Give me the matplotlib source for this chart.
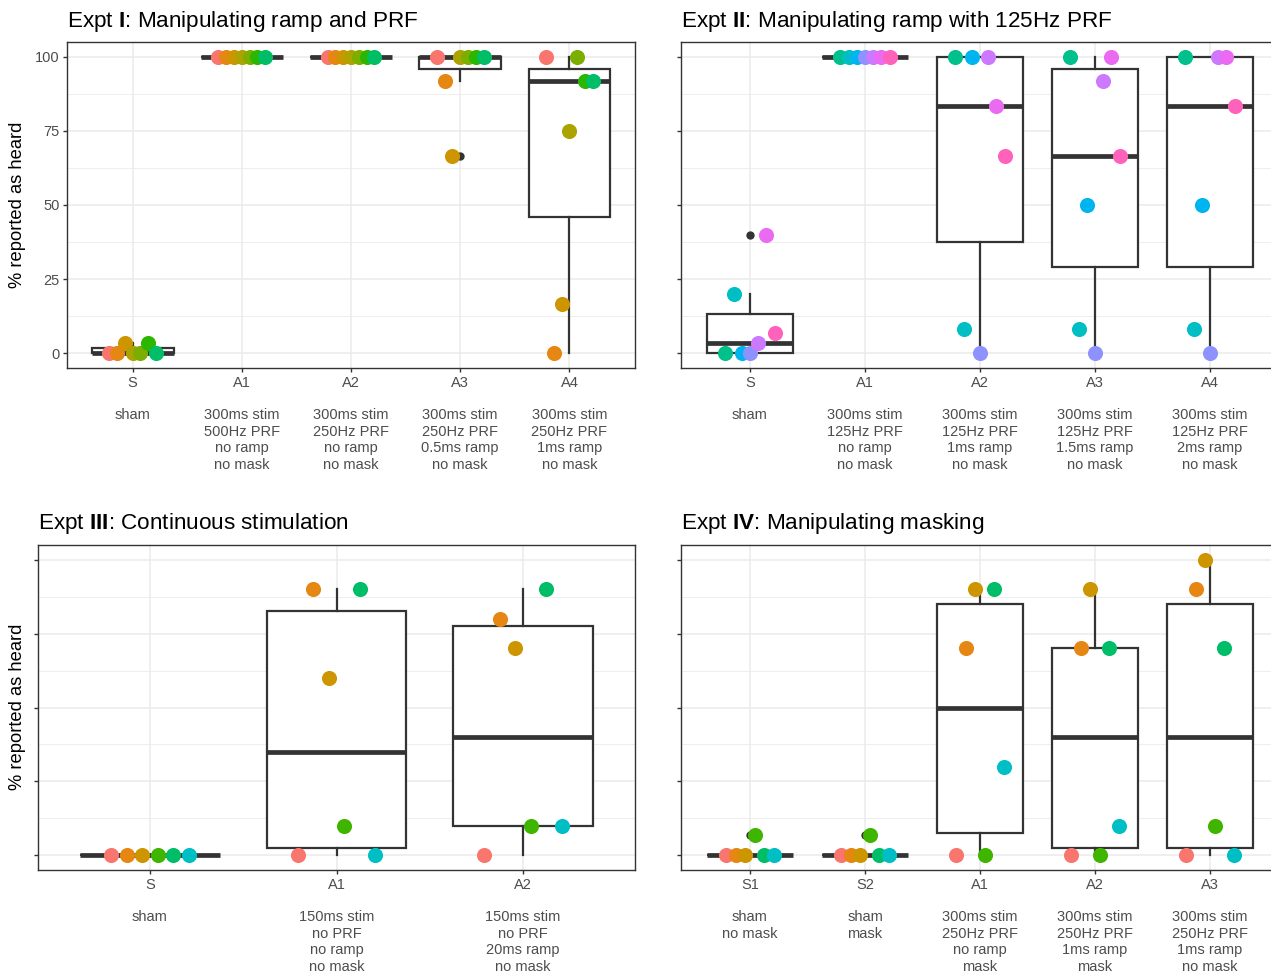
import matplotlib
matplotlib.use("Agg")
import matplotlib.pyplot as plt
import numpy as np

plt.rcParams['font.family'] = ['Liberation Sans', 'DejaVu Sans']
plt.rcParams['mathtext.fontset'] = 'custom'
plt.rcParams['mathtext.rm'] = 'Liberation Sans'
plt.rcParams['mathtext.bf'] = 'Liberation Sans:bold'
plt.rcParams['mathtext.it'] = 'Liberation Sans:italic'

# ---------------- data ----------------
e1_title = r"Expt $\mathbf{I}$: Manipulating ramp and PRF"
e1_codes = ["S", "A1", "A2", "A3", "A4"]
e1_desc = ["sham",
           "300ms stim\n500Hz PRF\nno ramp\nno mask",
           "300ms stim\n250Hz PRF\nno ramp\nno mask",
           "300ms stim\n250Hz PRF\n0.5ms ramp\nno mask",
           "300ms stim\n250Hz PRF\n1ms ramp\nno mask"]
e1_values = [
    [0, 0, 3.3, 0, 0, 3.3, 0],
    [100, 100, 100, 100, 100, 100, 100],
    [100, 100, 100, 100, 100, 100, 100],
    [100, 91.7, 66.7, 100, 100, 100, 100],
    [100, 0, 16.7, 75, 100, 91.7, 91.7],
]

e2_title = r"Expt $\mathbf{II}$: Manipulating ramp with 125Hz PRF"
e2_codes = ["S", "A1", "A2", "A3", "A4"]
e2_desc = ["sham",
           "300ms stim\n125Hz PRF\nno ramp\nno mask",
           "300ms stim\n125Hz PRF\n1ms ramp\nno mask",
           "300ms stim\n125Hz PRF\n1.5ms ramp\nno mask",
           "300ms stim\n125Hz PRF\n2ms ramp\nno mask"]
e2_values = [
    [0, 20, 0, 0, 3.3, 40, 6.7],
    [100, 100, 100, 100, 100, 100, 100],
    [100, 8.3, 100, 0, 100, 83.3, 66.7],
    [100, 8.3, 50, 0, 91.7, 100, 66.7],
    [100, 8.3, 50, 0, 100, 100, 83.3],
]

e3_title = r"Expt $\mathbf{III}$: Continuous stimulation"
e3_codes = ["S", "A1", "A2"]
e3_desc = ["sham",
           "150ms stim\nno PRF\nno ramp\nno mask",
           "150ms stim\nno PRF\n20ms ramp\nno mask"]
e3_values = [
    [0, 0, 0, 0, 0, 0],
    [0, 90, 60, 10, 90, 0],
    [0, 80, 70, 10, 90, 10],
]

e4_title = r"Expt $\mathbf{IV}$: Manipulating masking"
e4_codes = ["S1", "S2", "A1", "A2", "A3"]
e4_desc = ["sham\nno mask",
           "sham\nmask",
           "300ms stim\n250Hz PRF\nno ramp\nmask",
           "300ms stim\n250Hz PRF\n1ms ramp\nmask",
           "300ms stim\n250Hz PRF\n1ms ramp\nno mask"]
e4_values = [
    [0, 0, 0, 6.7, 0, 0],
    [0, 0, 0, 6.7, 0, 0],
    [0, 70, 90, 0, 90, 30],
    [0, 70, 90, 0, 70, 10],
    [0, 90, 100, 10, 70, 0],
]

# subject colour hues (HCL, ggplot-like)
e1_hues = [15, 37.5, 60, 82.5, 105, 125, 150]
e2_hues = [165, 195, 225, 265, 288, 305, 340]
e34_hues = [15, 37.5, 60, 122, 150, 195]

y_ticks = [0, 25, 50, 75, 100]
y_minor = [12.5, 37.5, 62.5, 87.5]
y_label = "% reported as heard"


def hcl(h, c=100, l=65):
    h = np.deg2rad(h)
    U = c * np.cos(h)
    V = c * np.sin(h)
    Xn, Yn, Zn = 95.047, 100.0, 108.883
    Y = Yn * ((l + 16) / 116) ** 3
    un = 4 * Xn / (Xn + 15 * Yn + 3 * Zn)
    vn = 9 * Yn / (Xn + 15 * Yn + 3 * Zn)
    u = U / (13 * l) + un
    v = V / (13 * l) + vn
    X = 9 * Y * u / (4 * v)
    Z = -X / 3 - 5 * Y + 3 * Y / v
    M = np.array([[3.240479, -1.537150, -0.498535],
                  [-0.969256, 1.875992, 0.041556],
                  [0.055648, -0.204043, 1.057311]])
    rgb = M @ (np.array([X, Y, Z]) / 100)
    rgb = np.clip(rgb, 0, None)
    rgb = np.where(rgb <= 0.0031308, 12.92 * rgb, 1.055 * np.power(rgb, 1 / 2.4) - 0.055)
    return tuple(np.clip(rgb, 0, 1))


W, H = 1271, 975
fig = plt.figure(figsize=(W / 100, H / 100), dpi=100)
fig.patch.set_facecolor('white')

DARK = '#333333'
TICKC = '#4D4D4D'


def add_ax(l, t, r, b):
    return fig.add_axes([l / W, 1 - b / H, (r - l) / W, (b - t) / H])


def draw_panel(ax, title, codes, descs, values, hues, tlx, tly, show_ylabels):
    k = len(codes)
    n = len(values[0])
    pos = np.arange(1, k + 1)
    ax.boxplot(values, positions=pos, widths=0.75, patch_artist=True,
               showcaps=False, whis=1.5, zorder=2,
               boxprops=dict(facecolor='white', edgecolor=DARK, linewidth=1.6),
               medianprops=dict(color=DARK, linewidth=3.4, solid_capstyle='butt'),
               whiskerprops=dict(color=DARK, linewidth=1.6),
               flierprops=dict(marker='o', markerfacecolor=DARK, markeredgecolor='none',
                               markersize=6, zorder=3))
    step = 0.5 / n
    for j in range(n):
        off = (j - (n - 1) / 2) * step
        ax.scatter(pos + off, [v[j] for v in values], s=118, color=hcl(hues[j]),
                   linewidths=0, zorder=4)
    ax.set_xlim(0.4, k + 0.6)
    ax.set_ylim(-5, 105)
    ax.set_xticks(pos)
    ax.set_xticklabels([c + "\n\n" + d for c, d in zip(codes, descs)],
                       linespacing=1.22, fontsize=10.5, color=TICKC, va='top')
    ax.set_yticks(y_ticks)
    ax.set_yticks(y_minor, minor=True)
    if show_ylabels:
        ax.set_yticklabels([str(v) for v in y_ticks], fontsize=10.5, color=TICKC)
    else:
        ax.set_yticklabels([])
    ax.grid(which='major', color='#EBEBEB', linewidth=1.1)
    ax.grid(which='minor', axis='y', color='#EBEBEB', linewidth=0.6)
    ax.set_axisbelow(True)
    ax.tick_params(which='major', length=3, width=1.0, color=DARK, pad=2.5)
    ax.tick_params(which='minor', length=0)
    for sp in ax.spines.values():
        sp.set_color(DARK)
        sp.set_linewidth(1.0)
    fig.text(tlx / W, 1 - tly / H, title, fontsize=16.2, color='black',
             ha='left', va='baseline')


ax1 = add_ax(67, 42, 635, 368)
draw_panel(ax1, e1_title, e1_codes, e1_desc, e1_values, e1_hues, 67, 27, True)
ax2 = add_ax(681, 42, 1279, 368)
draw_panel(ax2, e2_title, e2_codes, e2_desc, e2_values, e2_hues, 681, 27, False)
ax3 = add_ax(38, 545, 635, 870)
draw_panel(ax3, e3_title, e3_codes, e3_desc, e3_values, e34_hues, 38, 529, False)
ax4 = add_ax(681, 545, 1279, 870)
draw_panel(ax4, e4_title, e4_codes, e4_desc, e4_values, e34_hues, 681, 529, False)

fig.text(18 / W, 1 - 205 / H, y_label, rotation=90, fontsize=13.2, ha='center', va='center')
fig.text(18 / W, 1 - 707 / H, y_label, rotation=90, fontsize=13.2, ha='center', va='center')

fig.savefig("out.png", dpi=100, facecolor='white')
